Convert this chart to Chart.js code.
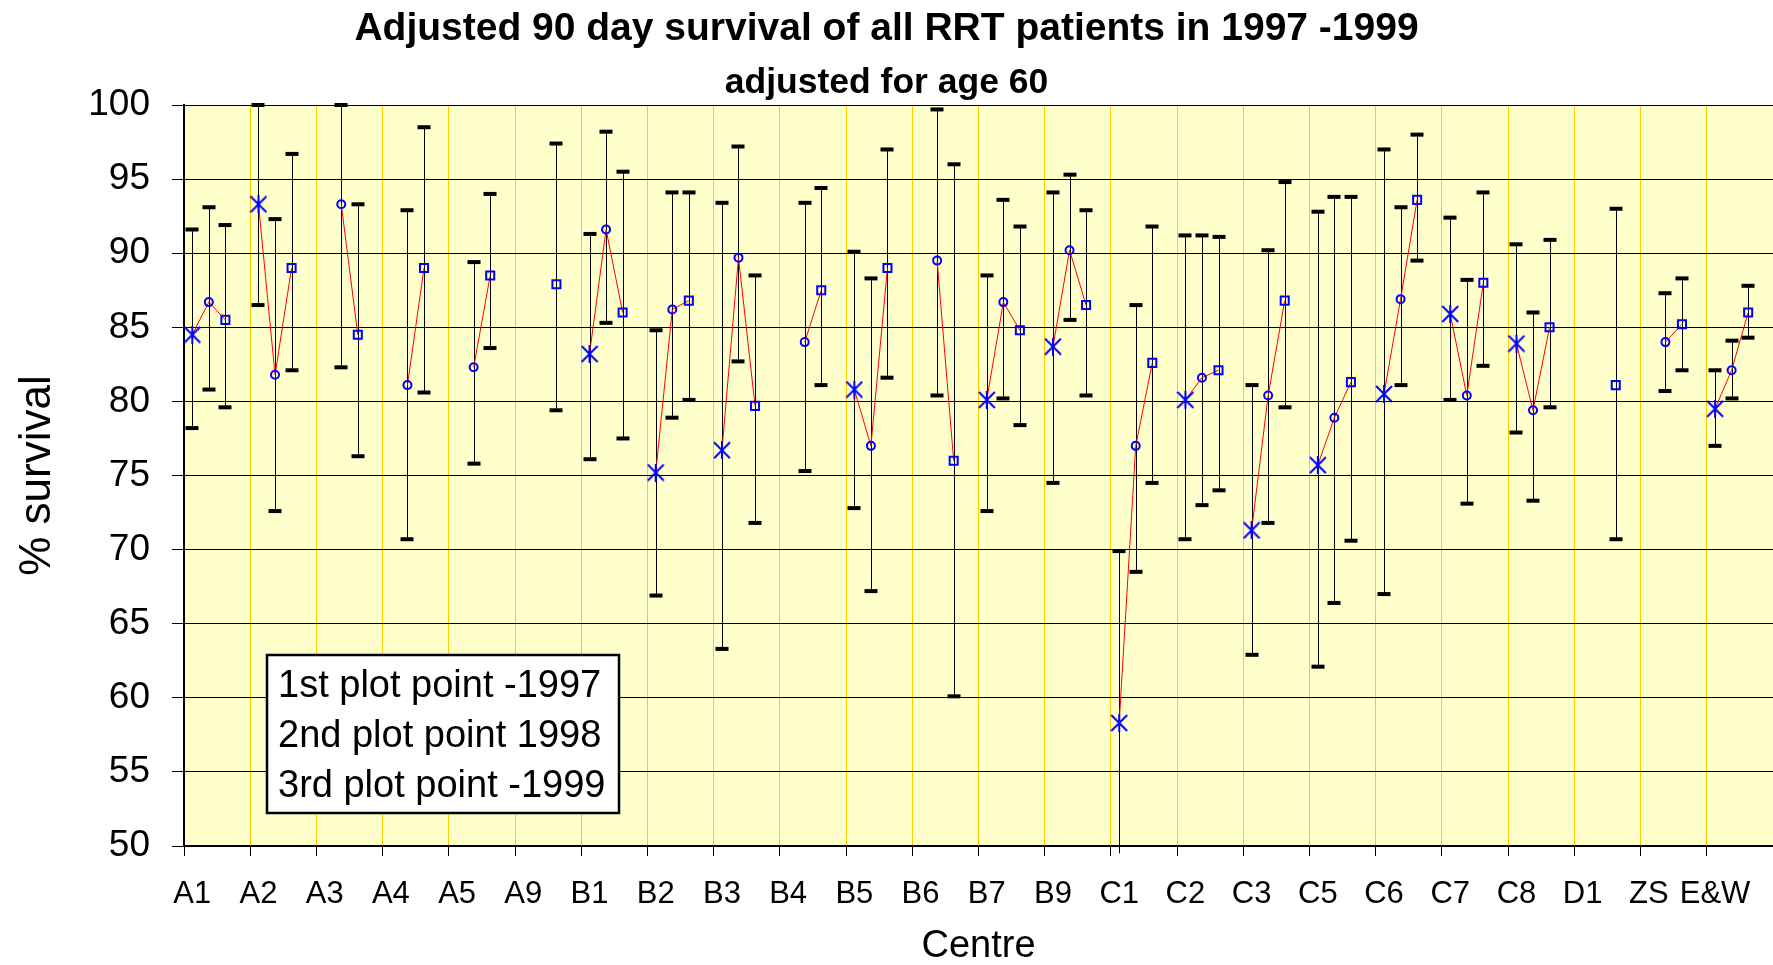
<!DOCTYPE html>
<html>
<head>
<meta charset="utf-8">
<script src="https://cdn.jsdelivr.net/npm/chart.js@4/dist/chart.umd.min.js"></script>
<style>
html,body{margin:0;padding:0;background:#fff;}
#wrap{width:1773px;height:965px;position:relative;}
canvas{display:block;}
</style>
</head>
<body>
<div id="wrap"><canvas id="c" width="1773" height="965" style="width:1773px;height:965px"></canvas></div>
<script>
// ---------- data ----------
const centres = ['A1','A2','A3','A4','A5','A9','B1','B2','B3','B4','B5','B6','B7','B9','C1','C2','C3','C5','C6','C7','C8','D1','ZS','E&W'];

const val1997 = [84.5, 93.3, null, null, null, null, 83.2, 75.2, 76.7, null, 80.8, null, 80.1, 83.7, 58.3, 80.1, 71.3, 75.7, 80.5, 85.9, 83.9, null, null, 79.5];
const up1997  = [91.6, 100.0, null, null, null, null, 91.3, 84.8, 93.4, null, 90.1, null, 88.5, 94.1, 69.9, 91.2, 81.1, 92.8, 97.0, 92.4, 90.6, null, null, 82.1];
const lo1997  = [78.2, 86.5, null, null, null, null, 76.1, 66.9, 63.3, null, 72.8, null, 72.6, 74.5, 49.5, 70.7, 62.9, 62.1, 67.0, 80.1, 77.9, null, null, 77.0];

const val1998 = [86.7, 81.8, 93.3, 81.1, 82.3, null, 91.6, 86.2, 89.7, 84.0, 77.0, 89.5, 86.7, 90.2, 77.0, 81.6, 80.4, 78.9, 86.9, 80.4, 79.4, null, 84.0, 82.1];
const up1998  = [93.1, 92.3, 100.0, 92.9, 89.4, null, 98.2, 94.1, 97.2, 93.4, 88.3, 99.7, 93.6, 95.3, 86.5, 91.2, 90.2, 93.8, 93.1, 88.2, 86.0, null, 87.3, 84.1];
const lo1998  = [80.8, 72.6, 82.3, 70.7, 75.8, null, 85.3, 78.9, 82.7, 75.3, 67.2, 80.4, 80.2, 85.5, 68.5, 73.0, 71.8, 66.4, 81.1, 73.1, 73.3, null, 80.7, 80.2];

const val1999 = [85.5, 89.0, 84.5, 89.0, 88.5, 87.9, 86.0, 86.8, 79.7, 87.5, 89.0, 76.0, 84.8, 86.5, 82.6, 82.1, 86.8, 81.3, 93.6, 88.0, 85.0, 81.1, 85.2, 86.0];
const up1999  = [91.9, 96.7, 93.3, 98.5, 94.0, 97.4, 95.5, 94.1, 88.5, 94.4, 97.0, 96.0, 91.8, 92.9, 91.8, 91.1, 94.8, 93.8, 98.0, 94.1, 90.9, 93.0, 88.3, 87.8];
const lo1999  = [79.6, 82.1, 76.3, 80.6, 83.6, 79.4, 77.5, 80.1, 71.8, 81.1, 81.6, 60.1, 78.4, 80.4, 74.5, 74.0, 79.6, 70.6, 89.5, 82.4, 79.6, 70.7, 82.1, 84.3];

const yMin = 50, yMax = 100, yStep = 5;
const legendLines = ['1st plot point -1997', '2nd plot point 1998', '3rd plot point -1999'];
const titleText = 'Adjusted 90 day survival of all RRT patients in 1997 -1999';
const subtitleText = 'adjusted for age 60';

// ---------- build slots (4 per centre: 1997, 1998, 1999, gap) ----------
const labels = [], values = [], uppers = [], lowers = [];
centres.forEach((c, i) => {
  labels.push(c, '', '', '');
  values.push(val1997[i], val1998[i], val1999[i], null);
  uppers.push(up1997[i], up1998[i], up1999[i], null);
  lowers.push(lo1997[i], lo1998[i], lo1999[i], null);
});

const FONT = "'Liberation Sans', Arial, Helvetica, sans-serif";
Chart.defaults.font.family = FONT;
Chart.defaults.color = '#000';

function makeStar() {
  const c = document.createElement('canvas');
  c.width = 18; c.height = 18;
  const g = c.getContext('2d');
  g.strokeStyle = '#0000FF';
  g.lineWidth = 2;
  g.beginPath();
  g.moveTo(1, 1); g.lineTo(17, 17);
  g.moveTo(17, 1); g.lineTo(1, 17);
  g.moveTo(9, 0); g.lineTo(9, 18);
  g.stroke();
  return c;
}
const starImg = makeStar();

const bgPlugin = {
  id: 'bg',
  beforeDraw(chart) {
    const {ctx, chartArea: a} = chart;
    ctx.save();
    ctx.fillStyle = '#ffffff';
    ctx.fillRect(0, 0, chart.width, chart.height);
    ctx.fillStyle = '#FFFFCC';
    ctx.fillRect(a.left, a.top, a.right - a.left, a.bottom - a.top);
    ctx.restore();
  }
};

const errorBars = {
  id: 'errorBars',
  beforeDatasetsDraw(chart) {
    const {ctx, scales: {x, y}} = chart;
    ctx.save();
    ctx.strokeStyle = '#000';
    ctx.fillStyle = '#000';
    ctx.lineWidth = 1;
    values.forEach((v, i) => {
      if (v == null) return;
      const px = Math.round(x.getPixelForValue(i)) + 0.5;
      const yt = y.getPixelForValue(uppers[i]);
      const yb = y.getPixelForValue(lowers[i]);
      ctx.beginPath();
      ctx.moveTo(px, yt);
      ctx.lineTo(px, yb);
      ctx.stroke();
      [uppers[i], lowers[i]].forEach(b => {
        if (b >= yMin && b <= yMax) {
          const py = y.getPixelForValue(b);
          ctx.fillRect(px - 7, py - 2, 13, 4);
        }
      });
    });
    ctx.restore();
  }
};

const legendBox = {
  id: 'legendBox',
  afterDraw(chart) {
    const ctx = chart.ctx;
    ctx.save();
    ctx.fillStyle = '#ffffff';
    ctx.fillRect(267, 655, 352, 158);
    ctx.strokeStyle = '#000';
    ctx.lineWidth = 2.5;
    ctx.strokeRect(267, 655, 352, 158);
    ctx.fillStyle = '#000';
    ctx.font = '38px ' + FONT;
    ctx.textBaseline = 'alphabetic';
    ctx.textAlign = 'left';
    legendLines.forEach((t, k) => ctx.fillText(t, 278, 697 + k * 50));
    ctx.restore();
  }
};

new Chart(document.getElementById('c'), {
  type: 'line',
  data: {
    labels: labels,
    datasets: [{
      label: 'survival',
      data: values,
      borderColor: '#FF0000',
      borderWidth: 1,
      tension: 0,
      spanGaps: false,
      pointStyle: ctx => [starImg, 'circle', 'rect', 'circle'][ctx.dataIndex % 4],
      pointRadius: ctx => [8, 4, 5.7, 0][ctx.dataIndex % 4],
      pointBorderColor: '#0000FF',
      pointBackgroundColor: 'rgba(0,0,0,0)',
      pointBorderWidth: 2,
      clip: false
    }]
  },
  options: {
    responsive: false,
    devicePixelRatio: 1,
    animation: false,
    layout: {padding: 0, autoPadding: false},
    plugins: {
      legend: {display: false},
      tooltip: {enabled: false},
      title: {
        display: true, text: titleText, color: '#000',
        font: {size: 39, weight: 'bold', lineHeight: 1.2},
        padding: {top: 6, bottom: 2}
      },
      subtitle: {
        display: true, text: subtitleText, color: '#000',
        font: {size: 35.5, weight: 'bold', lineHeight: 1.2},
        padding: {top: 7.6, bottom: 0}
      }
    },
    scales: {
      x: {
        type: 'category',
        offset: true,
        grid: {
          offset: true,
          color: ctx => (ctx.index % 4 === 0 && ctx.index > 0) ? '#FFCC00' : 'rgba(0,0,0,0)',
          tickColor: ctx => (ctx.index % 4 === 0) ? '#000' : 'rgba(0,0,0,0)',
          tickLength: 10,
          lineWidth: 1
        },
        border: {color: '#000', width: 2},
        ticks: {autoSkip: false, maxRotation: 0, minRotation: 0, padding: 20, color: '#000', font: {size: 31}},
        title: {display: true, text: 'Centre', color: '#000', font: {size: 38, lineHeight: 1}, padding: {top: 0, bottom: -1}},
        afterFit: s => { s.height = 119; s.paddingLeft = 0; s.paddingRight = 0; }
      },
      y: {
        min: yMin, max: yMax,
        ticks: {stepSize: yStep, padding: 22, color: '#000', font: {size: 37}},
        grid: {color: '#000', tickColor: '#000', tickLength: 12, lineWidth: 1},
        border: {color: '#000', width: 2},
        title: {display: true, text: '% survival', color: '#000', font: {size: 44, lineHeight: 1.2}, padding: {top: 11, bottom: 0}},
        afterFit: s => { s.width = 184; s.paddingTop = 0; s.paddingBottom = 0; }
      }
    }
  },
  plugins: [bgPlugin, errorBars, legendBox]
});
</script>
</body>
</html>
